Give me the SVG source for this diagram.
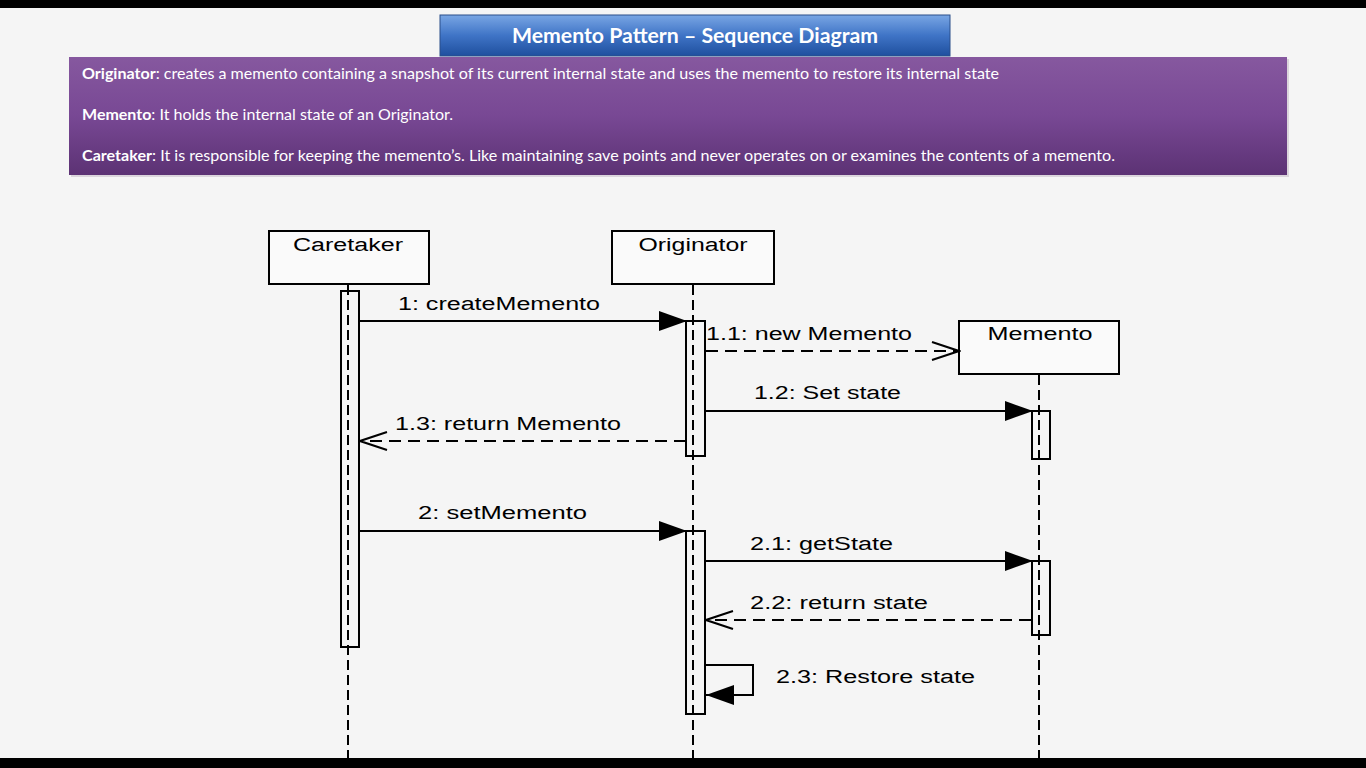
<svg xmlns="http://www.w3.org/2000/svg" width="1366" height="768" viewBox="0 0 1366 768">
<defs>
<linearGradient id="gTitle" x1="0" y1="0" x2="0" y2="1">
<stop offset="0" stop-color="#79a6e4"/>
<stop offset="0.5" stop-color="#3f74c6"/>
<stop offset="1" stop-color="#1f4f9e"/>
</linearGradient>
<linearGradient id="gPurple" x1="0" y1="0" x2="0" y2="1">
<stop offset="0" stop-color="#86589f"/>
<stop offset="0.5" stop-color="#784894"/>
<stop offset="1" stop-color="#5c3274"/>
</linearGradient>
<marker id="filled" markerWidth="28" markerHeight="20" refX="28" refY="10" orient="auto" markerUnits="userSpaceOnUse">
<path d="M0,0 L28,10 L0,20 Z" fill="#000"/>
</marker>
<marker id="open" markerWidth="30" markerHeight="22" refX="28" refY="11" orient="auto" markerUnits="userSpaceOnUse">
<path d="M1,2 L28,11 L1,20" fill="none" stroke="#000" stroke-width="2"/>
</marker>
</defs>
<style>
.box{fill:#fafafa;stroke:#000;stroke-width:2}
.act{fill:#fafafa;stroke:#000;stroke-width:2}
.life{stroke:#000;stroke-width:2;stroke-dasharray:10,5;fill:none}
.msg{stroke:#000;stroke-width:2;fill:none}
.ret{stroke:#000;stroke-width:2;fill:none;stroke-dasharray:12,7}
.lbl{font-family:"Liberation Sans",Arial,sans-serif;font-size:18px;fill:#000}
.desc{font-family:Lato,"Open Sans",sans-serif;font-size:15px;fill:#fff}
</style>
<rect x="0" y="0" width="1366" height="768" fill="#f5f5f5"/>
<rect x="0" y="0" width="1366" height="8" fill="#000"/>
<rect x="0" y="758" width="1366" height="10" fill="#000"/>

<g id="title">
<rect x="440" y="15" width="510" height="41" fill="url(#gTitle)" stroke="#2b4f8a" stroke-width="1"/>
<text x="695" y="43" text-anchor="middle" font-family="Lato,'Open Sans',sans-serif" font-weight="bold" font-size="21" fill="#fff" textLength="366" lengthAdjust="spacingAndGlyphs">Memento Pattern – Sequence Diagram</text>
</g>

<g id="description">
<rect x="71" y="59" width="1218" height="118" fill="#c9c0cc" opacity="0.6"/>
<rect x="69" y="57" width="1218" height="118" fill="url(#gPurple)"/>
<text class="desc" x="82" y="79" textLength="917" lengthAdjust="spacingAndGlyphs"><tspan font-weight="bold">Originator</tspan>: creates a memento containing a snapshot of its current internal state and uses the memento to restore its internal state</text>
<text class="desc" x="82" y="120" textLength="371" lengthAdjust="spacingAndGlyphs"><tspan font-weight="bold">Memento</tspan>: It holds the internal state of an Originator.</text>
<text class="desc" x="82" y="161" textLength="1033" lengthAdjust="spacingAndGlyphs"><tspan font-weight="bold">Caretaker</tspan>: It is responsible for keeping the memento’s. Like maintaining save points and never operates on or examines the contents of a memento.</text>
</g>

<g id="lifelines">
<line class="life" x1="348" y1="285" x2="348" y2="758"/>
<line class="life" x1="693" y1="285" x2="693" y2="758"/>
<line class="life" x1="1039" y1="375" x2="1039" y2="758"/>
</g>

<g id="caretaker">
<rect class="box" x="269" y="231" width="160" height="53"/>
<text class="lbl" x="348" y="251" text-anchor="middle" textLength="110" lengthAdjust="spacingAndGlyphs">Caretaker</text>
<rect class="act" x="341" y="291" width="18" height="356" fill-opacity="0"/>
</g>

<g id="originator">
<rect class="box" x="612" y="231" width="162" height="53"/>
<text class="lbl" x="693" y="251" text-anchor="middle" textLength="109" lengthAdjust="spacingAndGlyphs">Originator</text>
<rect class="act" x="686" y="321" width="19" height="135" fill-opacity="0"/>
<rect class="act" x="686" y="531" width="19" height="183" fill-opacity="0"/>
</g>

<g id="memento">
<rect class="box" x="959" y="321" width="160" height="53"/>
<text class="lbl" x="1040" y="340" text-anchor="middle" textLength="105" lengthAdjust="spacingAndGlyphs">Memento</text>
<rect class="act" x="1032" y="411" width="18" height="48" fill-opacity="0"/>
<rect class="act" x="1032" y="561" width="18" height="74" fill-opacity="0"/>
</g>

<g id="connectors">
<line class="msg" x1="360" y1="321" x2="687" y2="321" marker-end="url(#filled)"/>
<text class="lbl" x="398" y="310" textLength="202" lengthAdjust="spacingAndGlyphs">1: createMemento</text>

<line class="ret" x1="706" y1="351" x2="959" y2="351" marker-end="url(#open)"/>
<text class="lbl" x="706" y="340" textLength="206" lengthAdjust="spacingAndGlyphs">1.1: new Memento</text>

<line class="msg" x1="706" y1="411" x2="1033" y2="411" marker-end="url(#filled)"/>
<text class="lbl" x="754" y="399" textLength="147" lengthAdjust="spacingAndGlyphs">1.2: Set state</text>

<line class="ret" x1="686" y1="441" x2="360" y2="441" marker-end="url(#open)"/>
<text class="lbl" x="395" y="430" textLength="226" lengthAdjust="spacingAndGlyphs">1.3: return Memento</text>

<line class="msg" x1="360" y1="531" x2="687" y2="531" marker-end="url(#filled)"/>
<text class="lbl" x="418" y="519" textLength="169" lengthAdjust="spacingAndGlyphs">2: setMemento</text>

<line class="msg" x1="706" y1="561" x2="1033" y2="561" marker-end="url(#filled)"/>
<text class="lbl" x="750" y="550" textLength="143" lengthAdjust="spacingAndGlyphs">2.1: getState</text>

<line class="ret" x1="1031" y1="620" x2="706" y2="620" marker-end="url(#open)"/>
<text class="lbl" x="750" y="609" textLength="178" lengthAdjust="spacingAndGlyphs">2.2: return state</text>

<polyline class="msg" points="706,665 753,665 753,695 706,695" marker-end="url(#filled)"/>
<text class="lbl" x="776" y="683" textLength="199" lengthAdjust="spacingAndGlyphs">2.3: Restore state</text>
</g>
</svg>
